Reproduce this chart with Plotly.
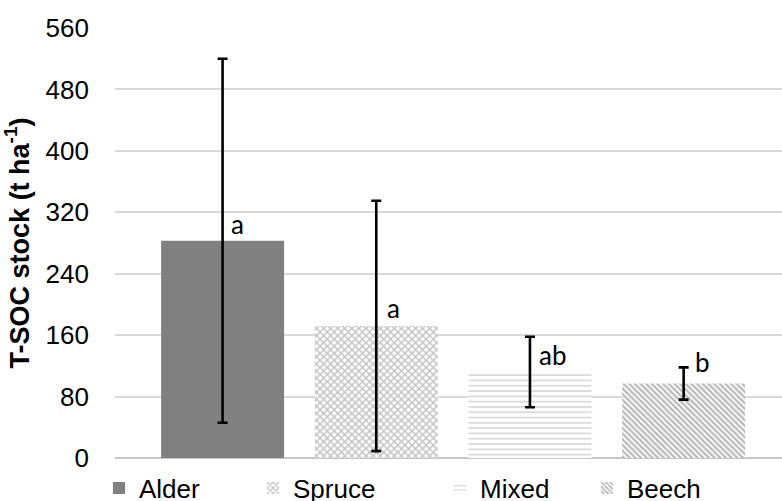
import plotly.graph_objects as go

# ---- data ----
species = ["Alder", "Spruce", "Mixed", "Beech"]
tsoc_mean = [283, 172, 112, 97]
tsoc_sd = [237, 163, 46, 21]
sig_letters = ["a", "a", "ab", "b"]
y_ticks = [0, 80, 160, 240, 320, 400, 480, 560]

# ---- styles ----
patterns = [
    dict(shape=""),
    dict(shape="x", fgcolor="#8c8c8c", bgcolor="white", size=5, solidity=0.5),
    dict(shape="-", fgcolor="#a0a0a0", bgcolor="white", size=5.3, solidity=0.25),
    dict(shape="\\", fgcolor="#737373", bgcolor="white", size=4, solidity=0.55),
]
bar_colors = ["#808080", "white", "white", "white"]
legend_text_px = [137, 291, 478, 625]
legend_names = ["legend", "legend2", "legend3", "legend4"]
label_xshift = [6, 9, 7, 9]
label_yshift = [-1, 0, -1, 4]

W, H = 782, 501
FONT = "Liberation Sans, Arial, sans-serif"
fig = go.Figure()
for i, name in enumerate(species):
    fig.add_trace(go.Bar(
        x=[i], y=[tsoc_mean[i]], name=name, width=0.8,
        marker=dict(color=bar_colors[i], line=dict(width=0), pattern=patterns[i]),
        error_y=dict(type="data", array=[tsoc_sd[i]], visible=True,
                     color="black", thickness=2.6, width=5),
        legend=legend_names[i], showlegend=True,
    ))
    fig.add_annotation(
        x=i, y=tsoc_mean[i], text=sig_letters[i], showarrow=False,
        xanchor="left", yanchor="bottom",
        xshift=label_xshift[i], yshift=label_yshift[i],
        font=dict(family="Lato, Liberation Sans, sans-serif", size=26, color="black"),
    )

leg_common = dict(orientation="h", xref="container", yref="container",
                  yanchor="middle", xanchor="left", y=1 - 488 / H,
                  font=dict(family=FONT, size=26, color="#000"),
                  bgcolor="rgba(0,0,0,0)", itemwidth=30, tracegroupgap=0)
legends = {}
for i, ln in enumerate(legend_names):
    legends[ln] = dict(leg_common, x=(legend_text_px[i] - 38) / W)

fig.update_layout(
    width=W, height=H,
    margin=dict(l=115, r=0, t=28, b=42.5, autoexpand=False),
    plot_bgcolor="white", paper_bgcolor="white",
    **legends,
)
fig.update_xaxes(range=[-0.70, 3.64], showticklabels=False, showgrid=False,
                 zeroline=False, showline=False, ticks="")
fig.update_yaxes(range=[0, 560], tickvals=y_ticks, showgrid=True, gridcolor="#d9d9d9",
                 gridwidth=1.8, zeroline=True, zerolinecolor="#c6c6c6", zerolinewidth=2.2,
                 showline=False, ticks="", ticklabelstandoff=25,
                 tickfont=dict(family=FONT, size=26, color="#000"),
                 title=dict(text="T-SOC stock (t ha<sup>-1</sup>)", standoff=8,
                            font=dict(family=FONT, size=27, color="#000", weight="bold")))

fig.write_html("out.html", config={"displayModeBar": False},
               post_script="document.body.style.margin='0';")
